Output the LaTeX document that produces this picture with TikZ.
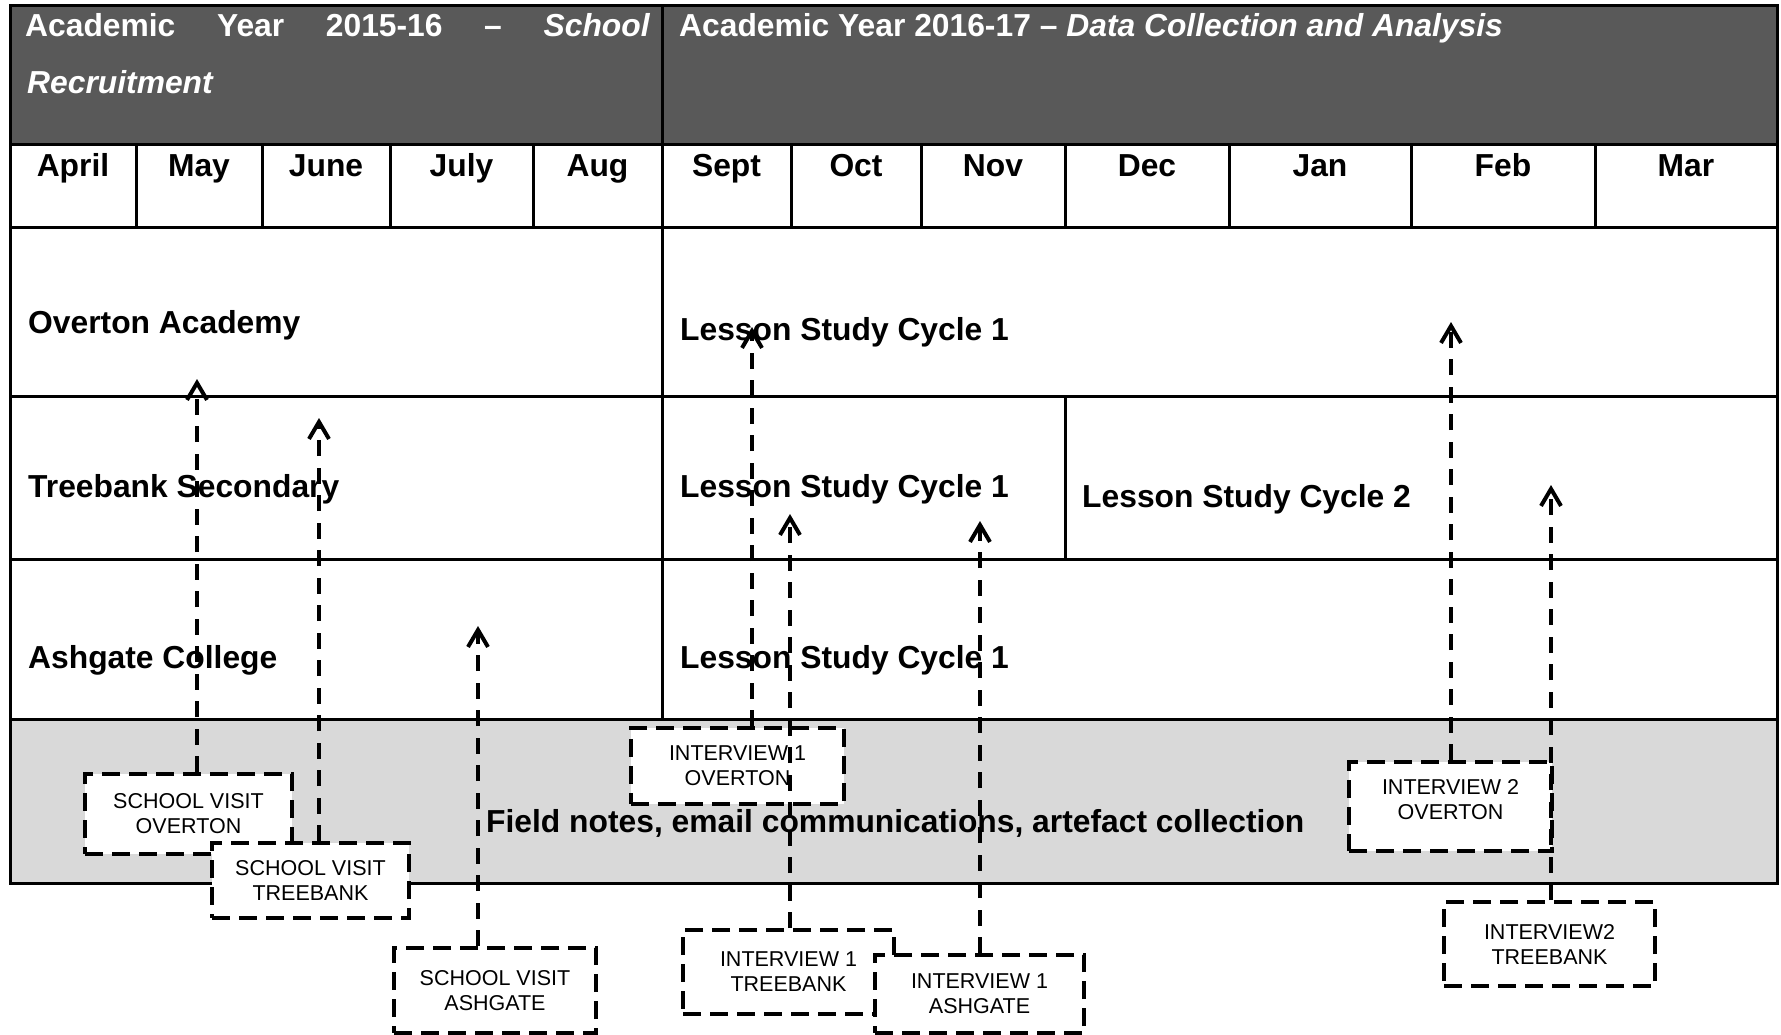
\documentclass[tikz,border=0pt]{standalone}
\usepackage{fontspec}
\setmainfont{Liberation Sans}
\usetikzlibrary{arrows.meta}
\definecolor{headgray}{HTML}{595959}
\definecolor{notegray}{HTML}{D9D9D9}

\begin{document}
\begin{tikzpicture}[x=1pt,y=-1pt,
  big/.style={font=\fontsize{31.8}{38}\selectfont\bfseries, inner sep=0pt},
  head/.style={big, text=white, anchor=base west},
  month/.style={big, anchor=base},
  rowlab/.style={big, anchor=base west},
  grid/.style={line width=3pt},
  visit/.style={draw, fill=white, line width=4pt, dash pattern=on 18pt off 9pt,
    align=center, inner sep=0pt, font=\fontsize{21.5}{25}\selectfont},
  conn/.style={line width=4pt, dash pattern=on 16pt off 11.5pt,
    -{Straight Barb[length=17pt,width=20pt]}}
]
\useasboundingbox (0,0) rectangle (1781,1035);

% table background bands
\fill[headgray] (10,6) rectangle (1777,145);
\fill[notegray] (10,719) rectangle (1777,883);

% table rules
\draw[grid] (10,6) rectangle (1777,883);
\foreach \y in {145,228,396,559,719} \draw[grid] (10,\y) -- (1777,\y);
\draw[grid] (662,6) -- (662,719);
\foreach \x in {136,262,390,533,791,921,1065,1229,1411,1595}
  \draw[grid] (\x,145) -- (\x,228);
\draw[grid] (1065,396) -- (1065,559);

% year headings
\node[head] (hdA) at (25,37)
  {\makebox[625pt][s]{Academic Year 2015-16 – \textit{School}}};
\node[head] (hdB) at (27,94) {\textit{Recruitment}};
\node[head] (hdC) at (679,37)
  {Academic Year 2016-17 – \textit{Data Collection and Analysis}};

% months
\foreach \n/\cx/\m in {1/73/April,2/199/May,3/326/June,4/461.5/July,5/597.5/Aug,
  6/726.5/Sept,7/856/Oct,8/993/Nov,9/1147/Dec,10/1320/Jan,11/1503/Feb,12/1686/Mar}
  \node[month] (mon\n) at (\cx,177) {\m};

% schools and study cycles
\node[rowlab] (rOverton) at (28,333) {Overton Academy};
\node[rowlab] (rTreebank) at (28,497) {Treebank Secondary};
\node[rowlab] (rAshgate) at (28,668) {Ashgate College};
\node[rowlab] (cyO) at (680,340) {Lesson Study Cycle 1};
\node[rowlab] (cyT) at (680,497) {Lesson Study Cycle 1};
\node[rowlab] (cyT2) at (1082,507) {Lesson Study Cycle 2};
\node[rowlab] (cyA) at (680,668) {Lesson Study Cycle 1};
\node[rowlab] (notes) at (486,832) {Field notes, email communications, artefact collection};

% visits and interviews
\node[visit, minimum width=207pt, minimum height=80pt] (svO) at (188.5,814) {SCHOOL VISIT\\OVERTON};
\node[visit, minimum width=197pt, minimum height=75pt] (svT) at (310.5,880.5) {SCHOOL VISIT\\TREEBANK};
\node[visit, minimum width=202pt, minimum height=85pt] (svA) at (495,990.5) {SCHOOL VISIT\\ASHGATE};
\node[visit, minimum width=213pt, minimum height=76pt] (ivO) at (737.5,766) {INTERVIEW 1\\OVERTON};
\node[visit, minimum width=211pt, minimum height=84pt] (ivT) at (788.5,972) {INTERVIEW 1\\TREEBANK};
\node[visit, minimum width=209pt, minimum height=78pt] (ivA) at (979.5,994) {INTERVIEW 1\\ASHGATE};
\node[visit, minimum width=203pt, minimum height=89pt] (ivO2) at (1450.5,806.5) {INTERVIEW 2\\OVERTON\rule[-14pt]{0pt}{0pt}};
\node[visit, minimum width=211pt, minimum height=84pt] (ivT2) at (1549.5,944) {INTERVIEW2\\TREEBANK};

% arrow tips
\coordinate (tSvO) at (197,379);
\coordinate (tSvT) at (319,418);
\coordinate (tSvA) at (478,626);
\coordinate (tIvO) at (752,327);
\coordinate (tIvT) at (790,514);
\coordinate (tIvA) at (980,521);
\coordinate (tIvO2) at (1451,322);
\coordinate (tIvT2) at (1551,485);

% connectors
\draw[conn] (tSvO |- svO.north) -- (tSvO);
\draw[conn] (tSvT |- svT.north) -- (tSvT);
\draw[conn] (tSvA |- svA.north) -- (tSvA);
\draw[conn] (tIvO |- ivO.north) -- (tIvO);
\draw[conn] (tIvT |- ivT.north) -- (tIvT);
\draw[conn] (tIvA |- ivA.north) -- (tIvA);
\draw[conn] (tIvO2 |- ivO2.north) -- (tIvO2);
\draw[conn] (tIvT2 |- ivT2.north) -- (tIvT2);
\end{tikzpicture}
\end{document}
